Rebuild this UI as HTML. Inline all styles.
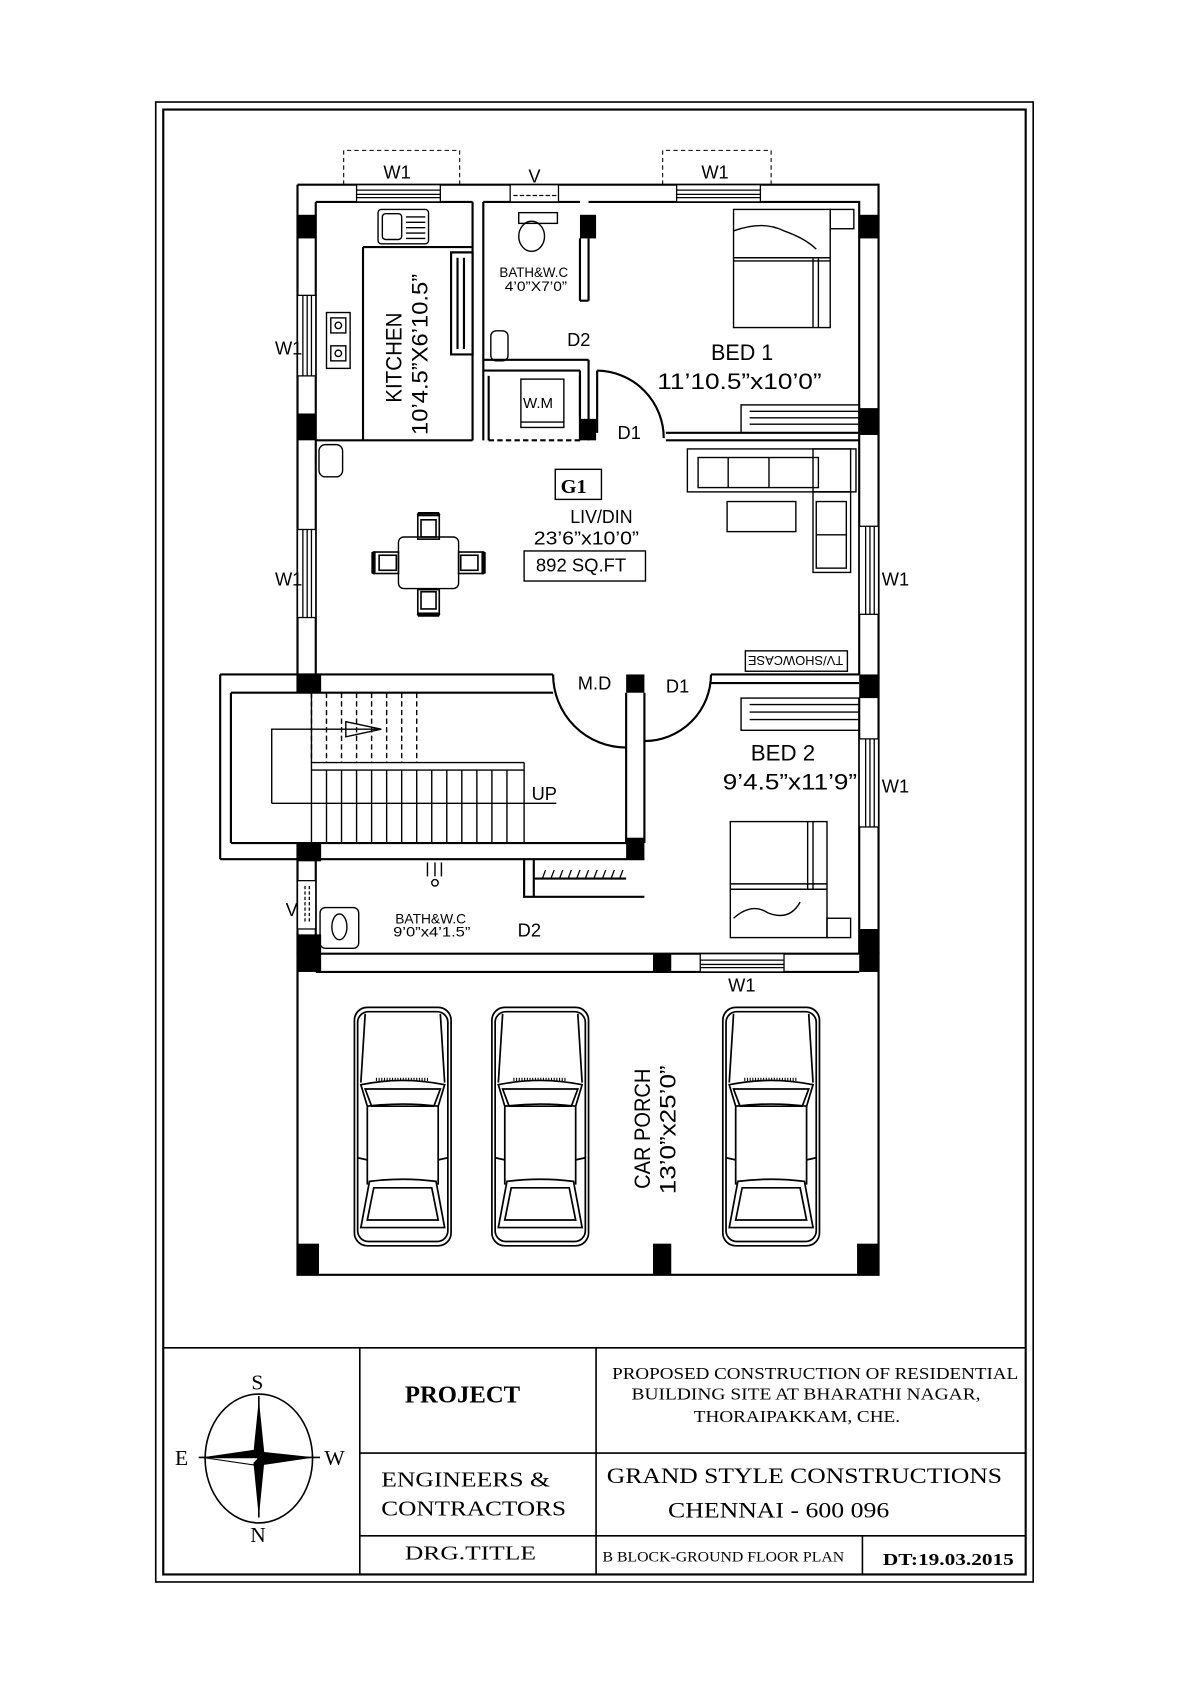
<!DOCTYPE html>
<html><head><meta charset="utf-8"><style>
html,body{margin:0;padding:0;background:#fff;}
svg{display:block;}
text{font-family:"Liberation Sans",sans-serif;fill:#000;}
.s{font-family:"Liberation Serif",serif;}
</style></head><body>
<svg width="1190" height="1684" viewBox="0 0 1108 1568" preserveAspectRatio="none" xmlns="http://www.w3.org/2000/svg">
<defs>
<g id="car" fill="none" stroke="#000" stroke-width="1.6">
<rect x="0" y="0" width="90" height="222" rx="12"/>
<rect x="3" y="4" width="84" height="214" rx="10"/>
<path d="M10,6 L6,70 M80,6 L84,70"/>
<path d="M6,72 Q45,64 84,72 L78,92 Q45,88 12,92 Z"/>
<path d="M10,76 L80,76 L74,92 L16,92 Z"/>
<path d="M20,67 L70,67" stroke-dasharray="1 1.5" stroke-width="3"/>
<path d="M12,92 L12,165 M78,92 L78,165"/>
<path d="M3,140 L12,142 M87,140 L78,142"/>
<path d="M14,162 Q45,158 76,162 L84,205 L6,205 Z"/>
<path d="M18,168 L72,168 L78,198 L12,198 Z"/>
</g>
<g id="chair" fill="none" stroke="#000" stroke-width="1.5">
<rect x="-10" y="-11" width="20" height="22"/>
<rect x="-7" y="-7" width="14" height="16"/>
<path d="M-10,-11 L-9,-13 L9,-13 L10,-11" stroke-width="2.5"/>
</g>
</defs>

<rect x="145" y="95" width="817" height="1378" fill="none" stroke="#000" stroke-width="1.5"/>
<rect x="152" y="102" width="803" height="1364" fill="none" stroke="#000" stroke-width="2"/>

<g fill="none" stroke="#000" stroke-width="2">
<path d="M277,172 H818 V888 M277,172 V628 M277,800 V888"/>
<path d="M294,188 H440 M450,188 H540 M548,188 H800 V628"/>
<path d="M294,188 V628"/>
<path d="M294,800 V888"/>
<path d="M800,650 V888"/>
<path d="M205,628 H515 M215,645 H515 M205,628 V800 M215,645 V785 M205,800 H600 M215,785 H583"/>
<path d="M277,628 V645 M277,785 V800"/>
<path d="M277,888 H818 V1187 H277 Z M294,905 H800"/>
<path d="M440,188 V410 M450,188 V410 M440,410 H294"/>
<path d="M338,230 H440 M338,230 V410"/>
<path d="M420,235 H440 V330 H420 Z M426,240 V325 M432,240 V325"/>
<path d="M450,335 H548 M450,345 H540 M548,335 V410 M540,345 V388 M540,222 V280 M548,222 V280 M540,280 H548"/>
<path d="M455,410 H540" stroke-dasharray="5 3"/>
<path d="M455,350 V410 M540,350 V410"/>
<path d="M620,403 H800 M620,410 H800"/>
<path d="M556,345 A63,63 0 0 1 618,408 M556,345 V403"/>
<path d="M662,628 H800 M662,636 H800"/>
<path d="M515,628 A68,68 0 0 0 583,696 M662,628 A62,62 0 0 1 600,690"/>
<path d="M583,645 V785 M600,645 V785"/>
<path d="M488,800 V835 H600 M497,800 V835 M497,818 H583"/>
<path d="M505,818 l3,-8 M513,818 l3,-8 M521,818 l3,-8 M529,818 l3,-8 M537,818 l3,-8 M545,818 l3,-8 M553,818 l3,-8 M561,818 l3,-8 M569,818 l3,-8 M577,818 l3,-8" stroke-width="1.2"/>
</g>

<g fill="#fff" stroke="#000" stroke-width="1.2">
<rect x="332" y="172" width="78" height="16"/><path d="M332,177 H410 M332,181 H410 M332,184 H410" fill="none"/>
<rect x="630" y="172" width="78" height="16"/><path d="M630,177 H708 M630,181 H708 M630,184 H708" fill="none"/>
<rect x="475" y="172" width="45" height="16"/><path d="M478,182 H518" stroke-dasharray="4 2" fill="none"/>
<rect x="277" y="275" width="17" height="75"/><path d="M282,275 V350 M286,275 V350 M290,275 V350" fill="none"/>
<rect x="277" y="493" width="17" height="82"/><path d="M282,493 V575 M286,493 V575 M290,493 V575" fill="none"/>
<rect x="800" y="490" width="18" height="82"/><path d="M806,490 V572 M810,490 V572 M814,490 V572" fill="none"/>
<rect x="800" y="688" width="18" height="82"/><path d="M806,688 V770 M810,688 V770 M814,688 V770" fill="none"/>
<rect x="277" y="820" width="17" height="45"/><path d="M284,825 V860 M288,825 V860" stroke-dasharray="3 2" fill="none"/>
<rect x="652" y="888" width="78" height="17"/><path d="M652,894 H730 M652,898 H730 M652,901 H730" fill="none"/>
</g>
<g fill="none" stroke="#000" stroke-width="1" stroke-dasharray="4 3">
<path d="M320,172 V140 H428 V172"/>
<path d="M617,172 V140 H718 V172"/>
</g>

<g fill="#000">
<rect x="277" y="200" width="17" height="22"/><rect x="277" y="385" width="17" height="25"/>
<rect x="277" y="628" width="22" height="17"/><rect x="277" y="785" width="22" height="17"/>
<rect x="277" y="870" width="22" height="18"/>
<rect x="800" y="200" width="18" height="22"/><rect x="800" y="380" width="18" height="25"/>
<rect x="800" y="628" width="18" height="22"/><rect x="800" y="865" width="18" height="23"/>
<rect x="540" y="200" width="15" height="22"/><rect x="540" y="390" width="15" height="20"/>
<rect x="583" y="628" width="17" height="17"/><rect x="583" y="780" width="17" height="20"/>
<rect x="277" y="888" width="22" height="17"/><rect x="608" y="888" width="17" height="17"/><rect x="800" y="888" width="18" height="17"/>
<rect x="277" y="1158" width="20" height="29"/><rect x="608" y="1158" width="17" height="29"/><rect x="798" y="1158" width="20" height="29"/>
</g>

<g fill="none" stroke="#000" stroke-width="1.3">
<rect x="352" y="195" width="47" height="32" rx="3"/><rect x="356" y="199" width="18" height="24" rx="3"/>
<path d="M378,202 H396 M378,207 H396 M378,212 H396 M378,217 H396 M378,222 H396"/>
<rect x="304" y="291" width="22" height="52"/><rect x="308" y="296" width="14" height="14"/><rect x="308" y="322" width="14" height="14"/>
<circle cx="315" cy="303" r="3"/><circle cx="315" cy="329" r="3"/>
<rect x="297" y="414" width="22" height="30" rx="6"/>
<rect x="483" y="198" width="36" height="10"/><ellipse cx="495" cy="220" rx="12" ry="14"/>
<rect x="457" y="308" width="16" height="28" rx="5"/>
<rect x="485" y="353" width="40" height="45"/><path d="M485,393 H525"/>
<rect x="683" y="195" width="90" height="110"/><path d="M683,240 H773 M683,243 H773 M757,240 V305 M762,240 V305"/>
<path d="M683,215 Q710,205 730,215 Q750,222 760,232"/>
<rect x="773" y="195" width="22" height="18"/>
<rect x="690" y="377" width="110" height="26"/><path d="M698,383 H800 M698,389 H800 M698,395 H800"/>
<rect x="640" y="418" width="157" height="40"/><rect x="650" y="426" width="112" height="28"/><path d="M678,426 V454 M716,426 V454"/>
<rect x="757" y="418" width="35" height="40"/><rect x="757" y="458" width="35" height="75"/><rect x="760" y="467" width="28" height="62"/><path d="M760,498 H788"/>
<rect x="677" y="467" width="64" height="28"/>
<rect x="694" y="606" width="95" height="19"/>
<rect x="371" y="500" width="56" height="48" rx="5"/>
<rect x="517" y="437" width="43" height="28"/>
<rect x="488" y="513" width="113" height="28"/>
<rect x="680" y="765" width="90" height="108"/><path d="M680,823 H770 M680,828 H770 M752,765 V828 M757,765 V828"/>
<path d="M683,855 Q700,840 715,850 Q735,858 745,840"/>
<rect x="770" y="855" width="22" height="18"/>
<rect x="690" y="650" width="110" height="30"/><path d="M698,656 H800 M698,663 H800 M698,670 H800"/>
<path d="M290,710 H488 M290,717 H488 M488,710 V785"/>
<path d="M304,717 V785 M318,717 V785 M332,717 V785 M346,717 V785 M360,717 V785 M374,717 V785 M388,717 V785 M402,717 V785 M416,717 V785 M430,717 V785 M444,717 V785 M458,717 V785 M472,717 V785"/>
<path d="M290,645 V710 M304,645 V710 M318,645 V710 M332,645 V710 M346,645 V710 M360,645 V710 M374,645 V710 M388,645 V710" stroke-dasharray="5 3"/>
<path d="M290,645 V785"/>
<path d="M253,748 V679 H355 M253,748 H518"/>
<path d="M322,672 L355,679 L322,686 Z"/>
<rect x="298" y="845" width="36" height="38" rx="5"/><ellipse cx="316" cy="863" rx="7" ry="12"/>
<path d="M398,803 V816 M405,803 V816 M411,803 V816"/><circle cx="405" cy="822" r="3"/>
</g>
<use href="#chair" x="399" y="491"/>
<use href="#chair" x="399" y="560" transform="rotate(180 399 560)"/>
<use href="#chair" x="360" y="524" transform="rotate(-90 360 524)"/>
<use href="#chair" x="438" y="524" transform="rotate(90 438 524)"/>

<use href="#car" x="330" y="938"/>
<use href="#car" x="458" y="938"/>
<use href="#car" x="673" y="938"/>

<g font-size="17">
<text x="357" y="166">W1</text><text x="653" y="166">W1</text><text x="492" y="170">V</text>
<text x="256" y="330">W1</text><text x="256" y="545">W1</text>
<text x="821" y="545">W1</text><text x="821" y="738">W1</text>
<text x="266" y="853">V</text><text x="678" y="923">W1</text>
<text x="528" y="322">D2</text><text x="575" y="409">D1</text>
<text x="538" y="642">M.D</text><text x="620" y="645">D1</text>
<text x="495" y="745">UP</text><text x="482" y="872">D2</text>
<text x="662" y="335" font-size="21" textLength="58" lengthAdjust="spacingAndGlyphs">BED  1</text>
<text x="612" y="362" font-size="21" textLength="153" lengthAdjust="spacingAndGlyphs">11’10.5”x10’0”</text>
<text x="699" y="708" font-size="21" textLength="60" lengthAdjust="spacingAndGlyphs">BED  2</text>
<text x="673" y="735" font-size="21" textLength="125" lengthAdjust="spacingAndGlyphs">9’4.5”x11’9”</text>
<text x="531" y="487" textLength="58" lengthAdjust="spacingAndGlyphs">LIV/DIN</text>
<text x="497" y="507" textLength="98" lengthAdjust="spacingAndGlyphs">23’6”x10’0”</text>
<text x="499" y="532" textLength="84" lengthAdjust="spacingAndGlyphs">892  SQ.FT</text>
<text x="465" y="258" font-size="13" textLength="64" lengthAdjust="spacingAndGlyphs">BATH&amp;W.C</text>
<text x="470" y="271" font-size="13" textLength="58" lengthAdjust="spacingAndGlyphs">4’0”X7’0”</text>
<text x="368" y="860" font-size="13" textLength="66" lengthAdjust="spacingAndGlyphs">BATH&amp;W.C</text>
<text x="366" y="872" font-size="13" textLength="72" lengthAdjust="spacingAndGlyphs">9’0”x4’1.5”</text>
<text x="487" y="380" font-size="14">W.M</text>
<text x="697" y="621" font-size="12" transform="rotate(180 741 616)">TV/SHOWCASE</text>
<text transform="translate(374,375) rotate(-90)" font-size="21" textLength="84" lengthAdjust="spacingAndGlyphs">KITCHEN</text>
<text transform="translate(398,405) rotate(-90)" font-size="21" textLength="150" lengthAdjust="spacingAndGlyphs">10’4.5”X6’10.5”</text>
<text transform="translate(605,1107) rotate(-90)" font-size="21" textLength="112" lengthAdjust="spacingAndGlyphs">CAR  PORCH</text>
<text transform="translate(629,1112) rotate(-90)" font-size="21" textLength="120" lengthAdjust="spacingAndGlyphs">13’0”x25’0”</text>
</g>
<text x="522" y="459" class="s" font-size="19" font-weight="bold">G1</text>

<g fill="none" stroke="#000" stroke-width="1.5">
<path d="M152,1255 H955 M335,1255 V1466 M555,1255 V1466 M335,1353 H955 M335,1430 H955 M803,1430 V1466"/>
<ellipse cx="241" cy="1358" rx="50" ry="60"/>
<path d="M185,1357 H298 M241,1300 V1413"/>
</g>
<g fill="#000">
<path d="M241,1303 L246,1352 L241,1357 L236,1352 Z M241,1413 L236,1362 L241,1357 L246,1362 Z"/>
<path d="M188,1357 L236,1350 L241,1357 Z M293,1357 L246,1352 L241,1357 Z"/>
<path d="M188,1357 L236,1364 L241,1357 Z" fill="none" stroke="#000"/>
<path d="M293,1357 L246,1364 L241,1357 Z"/>
</g>
<g class="s">
<text x="234" y="1294" class="s" font-size="20">S</text>
<text x="163" y="1364" class="s" font-size="20">E</text>
<text x="302" y="1364" class="s" font-size="20">W</text>
<text x="233" y="1436" class="s" font-size="20">N</text>
<text x="377" y="1306" class="s" font-size="23" font-weight="bold">PROJECT</text>
<text x="570" y="1284" class="s" font-size="15.5" textLength="378" lengthAdjust="spacingAndGlyphs">PROPOSED CONSTRUCTION OF RESIDENTIAL</text>
<text x="588" y="1303" class="s" font-size="15.5" textLength="325" lengthAdjust="spacingAndGlyphs">BUILDING SITE AT BHARATHI NAGAR,</text>
<text x="646" y="1324" class="s" font-size="15.5" textLength="192" lengthAdjust="spacingAndGlyphs">THORAIPAKKAM, CHE.</text>
<text x="355" y="1384" class="s" font-size="20" textLength="157" lengthAdjust="spacingAndGlyphs">ENGINEERS &amp;</text>
<text x="355" y="1411" class="s" font-size="20" textLength="172" lengthAdjust="spacingAndGlyphs">CONTRACTORS</text>
<text x="565" y="1381" class="s" font-size="21" textLength="368" lengthAdjust="spacingAndGlyphs">GRAND STYLE CONSTRUCTIONS</text>
<text x="622" y="1413" class="s" font-size="21" textLength="206" lengthAdjust="spacingAndGlyphs">CHENNAI - 600 096</text>
<text x="377" y="1452" class="s" font-size="19" textLength="122" lengthAdjust="spacingAndGlyphs">DRG.TITLE</text>
<text x="561" y="1454" class="s" font-size="14" textLength="225" lengthAdjust="spacingAndGlyphs">B   BLOCK-GROUND FLOOR PLAN</text>
<text x="822" y="1457" class="s" font-size="16" font-weight="bold" textLength="122" lengthAdjust="spacingAndGlyphs">DT:19.03.2015</text>
</g>
</svg>
</body></html>
